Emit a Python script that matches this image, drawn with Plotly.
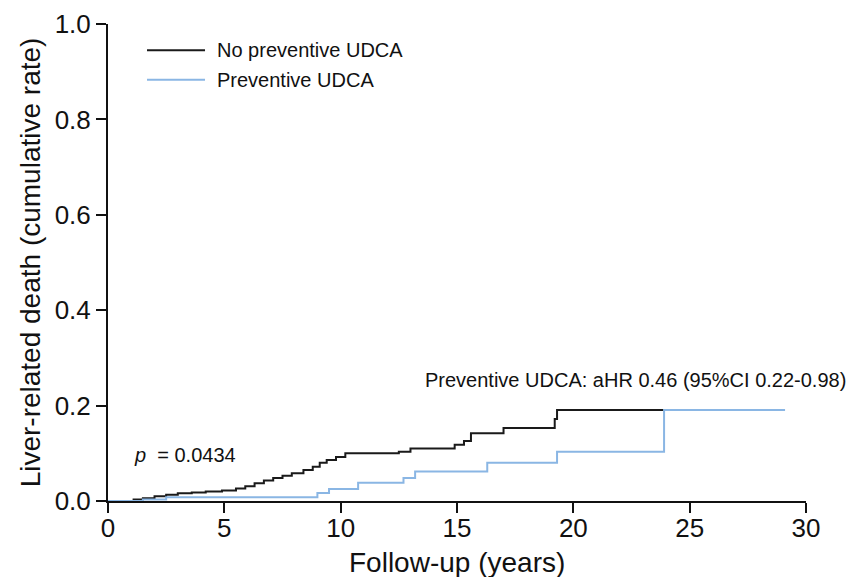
import plotly.graph_objects as go

# Cumulative liver-related death, step functions (years, cumulative rate)
no_udca_years = [0, 1.1, 1.5, 2.0, 2.5, 3.0, 3.6, 4.2, 4.9, 5.5, 5.9, 6.3, 6.7, 7.1,
                 7.5, 7.9, 8.4, 8.8, 9.1, 9.4, 9.8, 10.2, 12.5, 13.0, 14.9, 15.3,
                 15.6, 17.0, 19.2, 19.3, 26.6]
no_udca_rate = [0, 0.003, 0.006, 0.010, 0.013, 0.016, 0.018, 0.020, 0.022, 0.026,
                0.031, 0.037, 0.043, 0.048, 0.053, 0.058, 0.065, 0.072, 0.080, 0.086,
                0.092, 0.100, 0.103, 0.110, 0.118, 0.126, 0.142, 0.153, 0.172, 0.191,
                0.191]

udca_years = [0, 1.5, 2.5, 9.0, 9.5, 10.75, 12.7, 13.2, 16.3, 19.3, 23.9, 29.1]
udca_rate = [0, 0.003, 0.008, 0.017, 0.025, 0.038, 0.048, 0.062, 0.080, 0.103,
             0.191, 0.191]

x_ticks = [0, 5, 10, 15, 20, 25, 30]
y_ticks = [0.0, 0.2, 0.4, 0.6, 0.8, 1.0]

series_names = ["No preventive UDCA", "Preventive UDCA"]
series_colors = ["#1a1a1a", "#8ab6e4"]

FONT = "Arial, Liberation Sans, sans-serif"

fig = go.Figure()
fig.add_trace(go.Scatter(x=no_udca_years, y=no_udca_rate, mode="lines",
                         line=dict(shape="hv", color=series_colors[0], width=2),
                         name=series_names[0], showlegend=False))
fig.add_trace(go.Scatter(x=udca_years, y=udca_rate, mode="lines",
                         line=dict(shape="hv", color=series_colors[1], width=2),
                         name=series_names[1], showlegend=False))

# Legend drawn as short line samples with labels
legend_rows = [0.945, 0.883]
for name, color, yy in zip(series_names, series_colors, legend_rows):
    fig.add_shape(type="line", xref="paper", yref="paper",
                  x0=0.0559, x1=0.1390, y0=yy, y1=yy,
                  line=dict(color=color, width=2))
    fig.add_annotation(xref="paper", yref="paper", x=0.153, y=yy, text=name,
                       showarrow=False, xanchor="left", yanchor="middle",
                       font=dict(family=FONT, size=20, color="#111"))

fig.add_annotation(xref="paper", yref="paper", x=1.06, y=0.253,
                   text="Preventive UDCA: aHR 0.46 (95%CI 0.22-0.98)",
                   showarrow=False, xanchor="right", yanchor="middle",
                   font=dict(family=FONT, size=20, color="#111"))
fig.add_annotation(xref="paper", yref="paper", x=0.035, y=0.097,
                   text="<i>p</i>  = 0.0434",
                   showarrow=False, xanchor="left", yanchor="middle",
                   font=dict(family=FONT, size=20, color="#111"))

# x-axis title placed below the tick labels
fig.add_annotation(xref="paper", yref="paper", x=0.5, y=-0.128,
                   text="Follow-up (years)", showarrow=False,
                   xanchor="center", yanchor="middle",
                   font=dict(family=FONT, size=28, color="#111"))

fig.update_layout(
    width=851, height=577,
    margin=dict(l=108, r=45, t=24, b=76),
    plot_bgcolor="white", paper_bgcolor="white",
    font=dict(family=FONT, color="#111"),
)
fig.update_xaxes(
    range=[0, 30], tickvals=x_ticks, showgrid=False, zeroline=False,
    showline=True, linecolor="#111", linewidth=2, automargin=False,
    ticks="outside", ticklen=10, tickwidth=2, tickcolor="#111",
    ticklabelstandoff=-7,
    tickfont=dict(family=FONT, size=26, color="#111"),
)
fig.update_yaxes(
    range=[0, 1], tickvals=y_ticks, tickformat=".1f", showgrid=False, zeroline=False,
    showline=True, linecolor="#111", linewidth=2, automargin=False,
    ticks="outside", ticklen=10, tickwidth=2, tickcolor="#111",
    tickfont=dict(family=FONT, size=26, color="#111"),
    title=dict(text="Liver-related death (cumulative rate)",
               font=dict(family=FONT, size=28, color="#111"), standoff=6),
)

fig.write_html("out.html")
